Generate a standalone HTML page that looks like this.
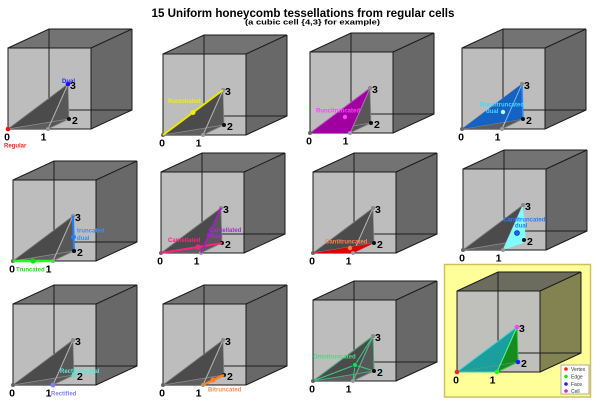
<!DOCTYPE html>
<html><head><meta charset="utf-8"><style>
html,body{margin:0;padding:0;background:#fff;}
svg{display:block;font-family:"Liberation Sans",Arial,sans-serif;}
.n{font-size:10.5px;font-weight:bold;fill:#000;}
.s{font-size:6px;font-weight:bold;}
</style></head><body>
<svg width="600" height="411" viewBox="0 0 600 411" xmlns="http://www.w3.org/2000/svg">
<defs>
<g id="cube">
<polygon points="0,-81 41,-100 124,-100 83,-81" fill="#737373"/>
<polygon points="83,-81 124,-100 124,-19 83,0" fill="#686868"/>
<rect x="0" y="-81" width="83" height="81" fill="#bdbdbd"/>
<path d="M41,-100V-19H124" stroke="#1e1e1e" fill="none" stroke-width="1"/>
<path d="M0,0L41,-19" stroke="#555" fill="none" stroke-width="0.8"/>
<path d="M0,-81H83V0H0Z M0,-81L41,-100H124L83,-81 M124,-100V-19L83,0" stroke="#1a1a1a" fill="none" stroke-width="1"/>
</g>
<g id="cubeY">
<polygon points="0,-81 41,-100 124,-100 83,-81" fill="#6c6c5e"/>
<polygon points="83,-81 124,-100 124,-19 83,0" fill="#838352"/>
<rect x="0" y="-81" width="83" height="81" fill="#bfbfbc"/>
<path d="M41,-100V-19H124" stroke="#1e1e1e" fill="none" stroke-width="1"/>
<path d="M0,-81H83V0H0Z M0,-81L41,-100H124L83,-81 M124,-100V-19L83,0" stroke="#1a1a1a" fill="none" stroke-width="1"/>
</g>
<g id="tet">
<polygon points="0,0 40,0 61,-10" fill="#5e5e5e"/>
<polygon points="0,0 61,-10 60,-45" fill="#4b4b4b"/>
<polygon points="40,0 61,-10 60,-45" fill="#575757"/>
<path d="M0,0L60,-45" stroke="#7a7a7a" stroke-width="0.8" fill="none"/>
<path d="M0,0L61,-10L40,0 M60,-45L61,-10" stroke="#8c8c8c" stroke-width="0.8" fill="none"/>
<path d="M40,0L60,-45" stroke="#b4b4b4" stroke-width="1" fill="none"/>
</g>
<g id="dots">
<circle cx="0" cy="0" r="2" fill="#666"/>
<circle cx="40" cy="0" r="2" fill="#9a9a9a"/>
<circle cx="61" cy="-10" r="2" fill="#111"/>
<circle cx="60" cy="-45" r="2" fill="#8a8a8a"/>
</g>
<g id="nums">
<text class="n" x="-1" y="11.5" text-anchor="middle">0</text>
<text class="n" x="35.5" y="11.5" text-anchor="middle">1</text>
<text class="n" x="64" y="-5" >2</text>
<text class="n" x="62" y="-40">3</text>
</g>
</defs>

<text x="303" y="17" text-anchor="middle" font-size="12" font-weight="bold" textLength="303" lengthAdjust="spacingAndGlyphs">15 Uniform honeycomb tessellations from regular cells</text>
<text x="312.5" y="24.5" text-anchor="middle" font-size="7" font-weight="bold" textLength="135" lengthAdjust="spacingAndGlyphs">(a cubic cell {4,3} for example)</text>

<!-- yellow highlight box -->
<rect x="444.5" y="264.5" width="146" height="132.5" fill="#ffff99" stroke="#cfc060" stroke-width="1.5"/>

<!-- P1 Regular / Dual -->
<g transform="translate(8,129)">
<use href="#cube"/><use href="#tet"/><use href="#dots"/>
<circle cx="0" cy="0" r="2.3" fill="#ff1010"/>
<circle cx="60" cy="-45" r="2.3" fill="#1010ff"/>
<text class="s" x="-4" y="18.5" fill="#ff2020">Regular</text>
<text class="s" x="54" y="-46" fill="#2020ff">Dual</text>
<use href="#nums"/>
</g>

<!-- P2 Runcinated -->
<g transform="translate(163,135)">
<use href="#cube"/><use href="#tet"/><use href="#dots"/>
<path d="M0,0L60,-45" stroke="#e8e800" stroke-width="2"/>
<circle cx="30" cy="-22.5" r="2.5" fill="#f0f000"/>
<text class="s" x="5" y="-32" fill="#f0f000">Runcinated</text>
<use href="#nums"/>
</g>

<!-- P3 Runcitruncated -->
<g transform="translate(310,133)">
<use href="#cube"/><use href="#tet"/>
<polygon points="0,0 40,0 60,-45" fill="#a000a0"/>
<path d="M0,0L60,-45 M40,0L60,-45" stroke="#c060c0" stroke-width="0.8"/>
<use href="#dots"/>
<circle cx="35" cy="-16" r="2.2" fill="#ff40ff"/>
<text class="s" x="6" y="-20.5" fill="#ff40ff">Runcitruncated</text>
<use href="#nums"/>
</g>

<!-- P4 Runcitruncated dual -->
<g transform="translate(462,129)">
<use href="#cube"/><use href="#tet"/>
<polygon points="0,0 61,-10 60,-45" fill="#1462c4"/>
<path d="M60,-45L61,-10" stroke="#2a8cff" stroke-width="1.5"/>
<path d="M40,0L60,-45" stroke="#a0c8e8" stroke-width="0.8"/>
<use href="#dots"/>
<circle cx="41" cy="-17" r="2.2" fill="#b0ffff"/>
<text class="s" x="18" y="-22.5" fill="#40d8ff">Runcitruncated</text>
<text class="s" x="24" y="-16" fill="#40d8ff">dual</text>
<use href="#nums"/>
</g>

<!-- P5 Truncated / Truncated dual -->
<g transform="translate(13,261)">
<use href="#cube"/><use href="#tet"/><use href="#dots"/>
<path d="M0,0H40" stroke="#20ff20" stroke-width="2.5"/>
<circle cx="20" cy="0" r="2.6" fill="#10e010"/>
<path d="M60,-45L61,-10" stroke="#2080ff" stroke-width="2"/>
<circle cx="60.5" cy="-24" r="2.5" fill="#2080ff"/>
<circle cx="61" cy="-10" r="2" fill="#111"/>
<text class="s" x="3" y="10.5" fill="#20e020">Truncated</text>
<text class="s" x="64" y="-28.5" fill="#3090ff">truncated</text>
<text class="s" x="64" y="-21" fill="#3090ff">dual</text>
<use href="#nums"/>
</g>

<!-- P6 Cantellated / Cantellated dual -->
<g transform="translate(161,253)">
<use href="#cube"/><use href="#tet"/><use href="#dots"/>
<path d="M0,0L61,-10" stroke="#ff2080" stroke-width="2"/>
<circle cx="37" cy="-6" r="2.5" fill="#ff2080"/>
<path d="M40,0L60,-45" stroke="#a020c0" stroke-width="2"/>
<circle cx="48" cy="-18" r="2.3" fill="#a020c0"/>
<text class="s" x="7" y="-11" fill="#ff2080">Cantellated</text>
<text class="s" x="48" y="-21" fill="#a030d0">Cantellated</text>
<text class="s" x="49" y="-15" fill="#a030d0">dual</text>
<use href="#nums"/>
</g>

<!-- P7 Cantitruncated -->
<g transform="translate(313,253)">
<use href="#cube"/><use href="#tet"/>
<polygon points="0,0 40,0 61,-10" fill="#e00000"/>
<use href="#dots"/>
<circle cx="37" cy="-5" r="2.2" fill="#ff8040"/>
<text class="s" x="12" y="-9.5" fill="#ff8050">Cantitruncated</text>
<use href="#nums"/>
</g>

<!-- P8 Cantitruncated dual -->
<g transform="translate(463,250)">
<use href="#cube"/><use href="#tet"/>
<polygon points="40,0 63,-8 60,-45" fill="#80ffff"/>
<use href="#dots"/>
<circle cx="54" cy="-17" r="2.4" fill="#2060ff" stroke="#003080" stroke-width="0.8"/>
<text class="s" x="40" y="-28.5" fill="#2080ff">Cantitruncated</text>
<text class="s" x="52" y="-22.5" fill="#2080ff">dual</text>
<use href="#nums"/>
</g>

<!-- P9 Rectified / Rectified dual -->
<g transform="translate(13,385)">
<use href="#cube"/><use href="#tet"/><use href="#dots"/>
<circle cx="40" cy="0" r="2.5" fill="#8080ff"/>
<circle cx="61" cy="-10" r="2.5" fill="#60e0d0"/>
<text class="s" x="38" y="10.5" fill="#8080ff">Rectified</text>
<text class="s" x="47" y="-12" fill="#60e8d8">Rectified dual</text>
<use href="#nums"/>
</g>

<!-- P10 Bitruncated -->
<g transform="translate(163,385)">
<use href="#cube"/><use href="#tet"/><use href="#dots"/>
<path d="M40,0L61,-10" stroke="#ff8020" stroke-width="2.5"/>
<circle cx="50" cy="-5" r="2.5" fill="#ff8020"/>
<text class="s" x="45" y="6.5" fill="#f09050">Bitruncated</text>
<use href="#nums"/>
</g>

<!-- P11 Omnitruncated -->
<g transform="translate(313,381)">
<use href="#cube"/><use href="#tet"/>
<path d="M0,0L60,-45L61,-10 M40,0L60,-45 M0,0L61,-10" stroke="#40b080" stroke-width="0.8" fill="none"/>
<path d="M42,-16L0,0 M42,-16L40,0 M42,-16L61,-10 M42,-16L60,-45" stroke="#30d080" stroke-width="1" fill="none"/>
<use href="#dots"/>
<circle cx="42" cy="-16" r="2.6" fill="#20d060" stroke="#0a6030" stroke-width="0.6"/>
<text class="s" x="0" y="-22.5" fill="#40e080">Omnitruncated</text>
<use href="#nums"/>
</g>

<!-- P12 Legend panel -->
<g transform="translate(457,372)">
<use href="#cubeY"/>
<polygon points="0,0 40,0 61,-10" fill="#1a7a50"/>
<polygon points="40,0 61,-10 60,-45" fill="#178a20"/>
<polygon points="0,0 40,0 60,-45" fill="#1a9e9e"/>
<path d="M0,0L61,-10" stroke="#5a9a8a" stroke-width="0.6"/>
<path d="M0,0L60,-45" stroke="#40d0d0" stroke-width="1"/>
<path d="M0,0H40" stroke="#40d0a0" stroke-width="1"/>
<path d="M40,0L60,-45" stroke="#50ff80" stroke-width="1"/>
<path d="M40,0L61,-10L60,-45" stroke="#30c040" stroke-width="1" fill="none"/>
<circle cx="0" cy="0" r="2.3" fill="#ff2020"/>
<circle cx="40" cy="0" r="2.3" fill="#20ff20"/>
<circle cx="61" cy="-10" r="2.3" fill="#2020ff"/>
<circle cx="60" cy="-45" r="2.3" fill="#ff40ff"/>
<use href="#nums"/>
</g>
<rect x="561" y="365" width="28" height="29" fill="#fff" stroke="#999" stroke-width="0.8"/>
<circle cx="566" cy="369" r="1.8" fill="#ff2020"/>
<circle cx="566" cy="376.5" r="1.8" fill="#20e020"/>
<circle cx="566" cy="384" r="1.8" fill="#2020ff"/>
<circle cx="566" cy="391" r="1.8" fill="#e020e0"/>
<text x="571" y="371" font-size="5" fill="#333">Vertex</text>
<text x="571" y="378.5" font-size="5" fill="#333">Edge</text>
<text x="571" y="386" font-size="5" fill="#333">Face</text>
<text x="571" y="393" font-size="5" fill="#333">Cell</text>
</svg>
</body></html>
